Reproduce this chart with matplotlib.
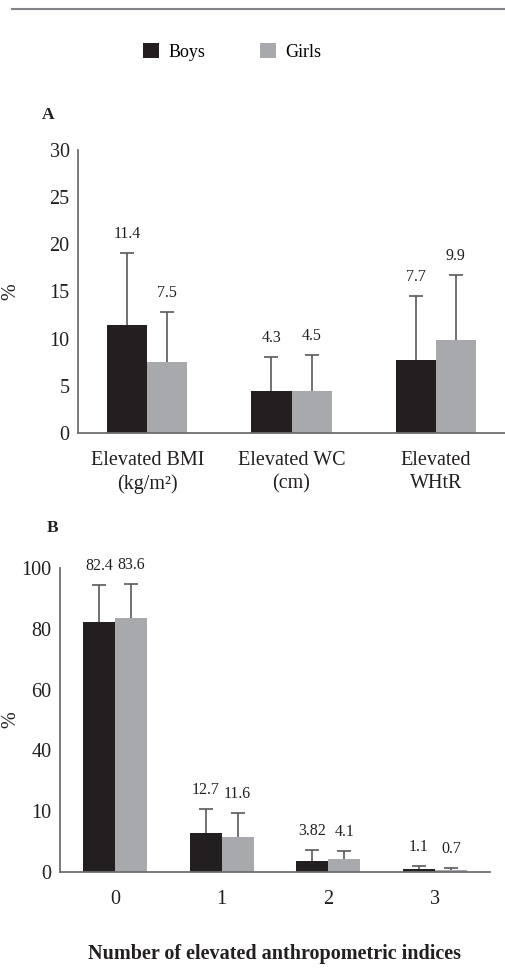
import matplotlib
matplotlib.use("Agg")
import matplotlib.pyplot as plt
from matplotlib.patches import Patch
from matplotlib.lines import Line2D
import numpy as np

plt.rcParams['font.family'] = ['Liberation Serif', 'DejaVu Serif']

# ---- data ----
series = ["Boys", "Girls"]
colors = ["#231f20", "#a7a9ac"]

cats_a = ["Elevated BMI\n(kg/m\u00b2)", "Elevated WC\n(cm)", "Elevated\nWHtR"]
boys_a = [11.4, 4.5, 7.7]
girls_a = [7.5, 4.4, 9.9]
boys_a_lbl = ["11.4", "4.3", "7.7"]
girls_a_lbl = ["7.5", "4.5", "9.9"]
boys_a_err = [7.7, 3.6, 6.8]
girls_a_err = [5.3, 3.9, 6.8]
yticks_a = [0, 5, 10, 15, 20, 25, 30]

cats_b = ["0", "1", "2", "3"]
boys_b = [82.4, 12.7, 3.6, 1.1]
girls_b = [83.6, 11.6, 4.3, 0.7]
boys_b_lbl = ["82.4", "12.7", "3.82", "1.1"]
girls_b_lbl = ["83.6", "11.6", "4.1", "0.7"]
boys_b_err = [12.0, 8.0, 3.6, 0.9]
girls_b_err = [11.1, 7.8, 2.6, 0.6]
yticks_b = [0, 20, 40, 60, 80, 100]
yticklabels_b = ["0", "10", "40", "60", "80", "100"]

W, H = 505, 968
fig = plt.figure(figsize=(W / 100, H / 100), dpi=100)

spine_col = "#6d6e71"
err_col = "#58595b"
txt_col = "#231f20"

def panel(ax, cats, b, g, bl, gl, be, ge, width, ylim, yticks, yticklabels, xlim):
    x = np.arange(len(cats))
    for vals, errs, lbls, col, off in [(b, be, bl, colors[0], -width / 2),
                                       (g, ge, gl, colors[1], width / 2)]:
        ax.bar(x + off, vals, width, color=col, zorder=2)
        cont = ax.errorbar(x + off, vals, yerr=[np.zeros(len(vals)), errs], fmt='none',
                           ecolor=err_col, elinewidth=1.2, capsize=5, capthick=1.2, zorder=1)
        caps = cont.lines[1]
        if len(caps) >= 2:
            caps[0].set_visible(False)
        for xi, v, e, t in zip(x + off, vals, errs, lbls):
            ax.annotate(t, xy=(xi, v + e), xytext=(0, 19), textcoords='offset pixels',
                        ha='center', va='center', fontsize=11.5, color=txt_col)
    ax.set_xlim(*xlim)
    ax.set_ylim(*ylim)
    ax.set_xticks(x)
    ax.set_xticklabels(cats, fontsize=14.5, color=txt_col, linespacing=1.3)
    ax.set_yticks(yticks)
    ax.set_yticklabels(yticklabels, fontsize=14.5, color=txt_col)
    ax.tick_params(axis='both', length=0)
    ax.tick_params(axis='y', pad=6)
    ax.tick_params(axis='x', pad=13)
    for s in ['top', 'right']:
        ax.spines[s].set_visible(False)
    for s in ['left', 'bottom']:
        ax.spines[s].set_color(spine_col)
        ax.spines[s].set_linewidth(1.3)
        ax.spines[s].set_zorder(4)
    ax.set_ylabel("%", fontsize=14.5, color=txt_col)

axA = fig.add_axes([78 / W, 1 - 433 / H, 1 - 78 / W, (433 - 150) / H])
panel(axA, cats_a, boys_a, girls_a, boys_a_lbl, girls_a_lbl, boys_a_err, girls_a_err,
      0.278, (0, 30), yticks_a, [str(t) for t in yticks_a], (-0.48, 2.48))
axA.yaxis.set_label_coords(-(78 - 20) / (W - 78), 0.5)

axB = fig.add_axes([60 / W, 1 - 872 / H, (490 - 60) / W, (872 - 568) / H])
panel(axB, cats_b, boys_b, girls_b, boys_b_lbl, girls_b_lbl, boys_b_err, girls_b_err,
      0.3, (0, 100), yticks_b, yticklabels_b, (-0.515, 3.515))
axB.yaxis.set_label_coords(-(60 - 20) / (490 - 60), 0.5)
axB.set_xlabel("Number of elevated anthropometric indices", fontsize=14.5,
               fontweight='bold', color=txt_col, labelpad=25)

fig.text(48 / W, 1 - 115 / H, "A", fontsize=12.5, fontweight='bold', ha='center', va='center', color=txt_col)
fig.text(53 / W, 1 - 528 / H, "B", fontsize=12.5, fontweight='bold', ha='center', va='center', color=txt_col)

fig.add_artist(Line2D([12 / W, 1.0], [1 - 9 / H, 1 - 9 / H], color='#808285', lw=1.5))

handles = [Patch(facecolor=c, edgecolor='none') for c in colors]
fig.legend(handles, series, loc='center', bbox_to_anchor=(232 / W, 1 - 52 / H), ncol=2,
           frameon=False, fontsize=13, handlelength=0.9, handleheight=0.9,
           handletextpad=0.5, columnspacing=3.0)

fig.savefig("out.png", dpi=100)
